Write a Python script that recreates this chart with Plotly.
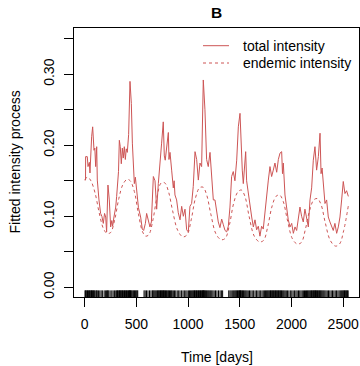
import plotly.graph_objects as go

# ---- data ----
endemic_t = [0, 30, 60, 100, 140, 180, 215, 250, 290, 330, 370, 410, 440, 480, 520, 560, 590, 620,
             660, 700, 740, 775, 810, 850, 900, 950, 990, 1030, 1070, 1110, 1145, 1180, 1220, 1270,
             1320, 1360, 1400, 1440, 1480, 1515, 1550, 1590, 1640, 1690, 1730, 1770, 1810, 1850,
             1885, 1920, 1960, 2010, 2055, 2095, 2135, 2175, 2215, 2250, 2285, 2325, 2375, 2425,
             2465, 2505, 2550]
endemic_v = [0.152, 0.155, 0.150, 0.133, 0.105, 0.083, 0.076, 0.077, 0.095, 0.125, 0.145, 0.152,
             0.150, 0.135, 0.103, 0.078, 0.072, 0.074, 0.095, 0.128, 0.147, 0.147, 0.135, 0.108,
             0.080, 0.071, 0.074, 0.095, 0.125, 0.140, 0.141, 0.130, 0.103, 0.075, 0.067, 0.069,
             0.088, 0.118, 0.134, 0.137, 0.128, 0.100, 0.072, 0.064, 0.066, 0.085, 0.113, 0.128,
             0.130, 0.121, 0.095, 0.068, 0.061, 0.063, 0.082, 0.108, 0.123, 0.125, 0.117, 0.092,
             0.066, 0.058, 0.061, 0.080, 0.115]

total_t = [0, 8, 9, 25, 32, 45, 51, 58, 67, 77, 84, 90, 98, 106, 116, 122, 138, 154, 166, 180,
           192, 203, 212, 225, 238, 251, 262, 270, 283, 300, 309, 319, 327, 335, 344, 354, 364,
           373, 383, 393, 402, 412, 425, 438, 451, 461, 470, 480, 490, 500, 509, 520, 541, 557,
           570, 587, 599, 615, 631, 645, 664, 680, 696, 712, 728, 744, 760, 770, 779, 799, 809,
           815, 825, 841, 857, 865, 873, 889, 905, 922, 938, 954, 970, 986, 1002, 1018, 1034,
           1050, 1067, 1083, 1099, 1115, 1131, 1147, 1163, 1179, 1195, 1212, 1228, 1244, 1260,
           1276, 1292, 1308, 1325, 1341, 1357, 1373, 1389, 1405, 1421, 1437, 1453, 1470, 1486,
           1502, 1512, 1524, 1534, 1550, 1557, 1566, 1582, 1599, 1615, 1631, 1647, 1663, 1679,
           1695, 1711, 1727, 1744, 1760, 1776, 1792, 1808, 1824, 1840, 1857, 1873, 1889, 1905,
           1913, 1921, 1937, 1953, 1969, 1986, 2002, 2018, 2034, 2050, 2066, 2082, 2098, 2114,
           2130, 2147, 2163, 2179, 2195, 2211, 2227, 2243, 2260, 2276, 2286, 2296, 2308, 2324,
           2340, 2356, 2372, 2388, 2404, 2420, 2437, 2453, 2469, 2485, 2501, 2517, 2533, 2550]
total_v = [0.151, 0.151, 0.184, 0.184, 0.170, 0.176, 0.161, 0.196, 0.212, 0.226, 0.205, 0.193,
           0.196, 0.170, 0.198, 0.151, 0.123, 0.104, 0.100, 0.090, 0.104, 0.099, 0.078, 0.144,
           0.123, 0.085, 0.094, 0.086, 0.099, 0.113, 0.128, 0.156, 0.163, 0.207, 0.198, 0.174,
           0.196, 0.182, 0.198, 0.180, 0.195, 0.190, 0.215, 0.290, 0.259, 0.203, 0.161, 0.146,
           0.155, 0.142, 0.123, 0.112, 0.099, 0.082, 0.080, 0.090, 0.104, 0.092, 0.085, 0.092,
           0.156, 0.150, 0.110, 0.146, 0.170, 0.203, 0.233, 0.185, 0.179, 0.208, 0.218, 0.180,
           0.190, 0.165, 0.140, 0.150, 0.130, 0.123, 0.105, 0.095, 0.114, 0.100, 0.110, 0.081,
           0.078, 0.114, 0.118, 0.142, 0.191, 0.180, 0.151, 0.175, 0.170, 0.292, 0.250, 0.180,
           0.170, 0.190, 0.150, 0.123, 0.123, 0.105, 0.092, 0.084, 0.096, 0.088, 0.080, 0.078,
           0.086, 0.113, 0.156, 0.163, 0.150, 0.179, 0.226, 0.245, 0.200, 0.165, 0.146, 0.179,
           0.191, 0.150, 0.132, 0.112, 0.099, 0.085, 0.095, 0.081, 0.086, 0.072, 0.086, 0.082,
           0.110, 0.132, 0.151, 0.170, 0.156, 0.165, 0.175, 0.162, 0.180, 0.189, 0.191, 0.160,
           0.175, 0.130, 0.110, 0.095, 0.085, 0.090, 0.076, 0.085, 0.080, 0.100, 0.113, 0.100,
           0.092, 0.110, 0.098, 0.085, 0.123, 0.140, 0.179, 0.198, 0.165, 0.184, 0.217, 0.160,
           0.168, 0.146, 0.118, 0.123, 0.099, 0.092, 0.085, 0.080, 0.090, 0.076, 0.085, 0.099,
           0.123, 0.149, 0.132, 0.136, 0.128]

event_times = [3, 9, 14, 22, 27, 35, 41, 48, 52, 60, 66, 71, 77, 84, 90, 97, 108, 116, 121, 133,
               146, 159, 171, 188, 200, 212, 219, 225, 233, 246, 262, 275, 289, 301, 309, 317,
               322, 330, 336, 341, 348, 353, 360, 366, 372, 379, 385, 392, 398, 404, 411, 417,
               424, 430, 434, 438, 443, 450, 457, 466, 474, 481, 490, 498, 506, 513,
               574, 585, 598, 612, 627, 641, 655, 662, 670, 679, 688, 697, 705, 712, 719, 726,
               733, 739, 745, 751, 758, 763, 769, 775, 782, 790, 797, 805, 812, 820, 829, 838,
               846, 857, 868, 881, 895, 909, 922, 937, 951, 964, 978, 990, 1003, 1013, 1022,
               1031, 1040, 1048, 1055, 1062, 1068, 1075, 1081, 1088, 1095, 1101, 1108, 1114,
               1120, 1127, 1133, 1139, 1144, 1148, 1152, 1157, 1163, 1170, 1177, 1185, 1193,
               1201, 1210, 1219, 1229, 1240, 1252, 1265, 1279, 1294, 1309, 1322, 1334,
               1393, 1405, 1416, 1427, 1437, 1446, 1455, 1463, 1470, 1478, 1485, 1491, 1497,
               1502, 1507, 1513, 1520, 1527, 1535, 1543, 1552, 1561, 1571, 1582, 1594, 1607,
               1620, 1634, 1648, 1661, 1675, 1688, 1702, 1715, 1727, 1738, 1748, 1757, 1766,
               1774, 1782, 1790, 1797, 1804, 1811, 1818, 1825, 1832, 1839, 1846, 1853, 1860,
               1867, 1874, 1881, 1888, 1895, 1903, 1911, 1920, 1929, 1939, 1950, 1962, 1975,
               1989, 2003, 2016, 2030, 2043, 2055, 2068, 2080, 2092, 2104, 2115, 2126, 2136,
               2145, 2154, 2162, 2170, 2178, 2186, 2193, 2200, 2207, 2214, 2220, 2226, 2232,
               2238, 2244, 2251, 2258, 2265, 2272, 2279, 2287, 2295, 2304, 2313, 2323, 2334,
               2346, 2358, 2371, 2384, 2397, 2410, 2423, 2436, 2449, 2461, 2472, 2482, 2491,
               2499, 2506, 2513, 2520, 2527, 2534, 2541, 2548]

series_names = ["total intensity", "endemic intensity"]
x_ticks = [0, 500, 1000, 1500, 2000, 2500]
y_ticks = [0.00, 0.05, 0.10, 0.15, 0.20, 0.25, 0.30, 0.35]
y_ticktext = ["0.00", "", "0.10", "", "0.20", "", "0.30", ""]

RED = "#CD5555"
FONT = "Liberation Sans, Arial, Helvetica, sans-serif"
DASH = "3px,3px"

# plot-area geometry in pixels (for placing text outside the axes)
L, R, T, B = 74, 359, 28, 297
PW, PH = R - L, B - T


def px_x(px):
    return (px - L) / PW


def px_y(py):
    return (B - py) / PH


fig = go.Figure()
fig.add_trace(go.Scatter(x=total_t, y=total_v, mode="lines", name=series_names[0],
                         showlegend=False, line=dict(color=RED, width=1)))
fig.add_trace(go.Scatter(x=endemic_t, y=endemic_v, mode="lines", name=series_names[1],
                         showlegend=False,
                         line=dict(color=RED, width=1, dash=DASH, shape="spline")))
fig.add_trace(go.Scatter(x=event_times, y=[-0.0093] * len(event_times), mode="markers",
                         showlegend=False, hoverinfo="skip",
                         marker=dict(symbol="line-ns", size=5,
                                     line=dict(color="black", width=1))))

# legend drawn as in R (no box): sample lines + labels
legend_rows_y = [45.7, 63.0]
legend_dash = ["solid", DASH]
shapes = []
annotations = []
for name, ry, dsh in zip(series_names, legend_rows_y, legend_dash):
    shapes.append(dict(type="line", xref="paper", yref="paper",
                       x0=px_x(203), x1=px_x(229), y0=px_y(ry), y1=px_y(ry),
                       line=dict(color=RED, width=1, dash=dsh)))
    annotations.append(dict(text=name, xref="paper", yref="paper", x=px_x(241), y=px_y(ry),
                            xanchor="left", yanchor="middle", showarrow=False,
                            font=dict(size=14)))

annotations += [
    dict(text="Time [days]", xref="paper", yref="paper", x=0.5, y=px_y(357),
         xanchor="center", yanchor="middle", showarrow=False, font=dict(size=14)),
    dict(text="Fitted intensity process", xref="paper", yref="paper",
         x=px_x(14), y=0.5, xanchor="center", yanchor="middle",
         textangle=-90, showarrow=False, font=dict(size=14)),
    dict(text="<b>B</b>", xref="paper", yref="paper", x=0.5, y=px_y(13),
         xanchor="center", yanchor="middle", showarrow=False, font=dict(size=15.5)),
]

fig.update_layout(
    width=360, height=366,
    margin=dict(l=L, r=360 - R, t=T, b=366 - B),
    paper_bgcolor="white", plot_bgcolor="white",
    font=dict(family=FONT, size=14, color="black"),
    showlegend=False,
    xaxis=dict(range=[-103.5, 2653], tickvals=x_ticks, ticks="outside", ticklen=9,
               tickcolor="black", showline=True, linecolor="black", linewidth=1, mirror=True,
               showgrid=False, zeroline=False, ticklabelstandoff=5,
               tickfont=dict(size=14)),
    yaxis=dict(range=[-0.0137, 0.3652], tickvals=y_ticks, ticktext=y_ticktext,
               ticks="outside", ticklen=9, tickcolor="black", tickangle=-90,
               showline=True, linecolor="black", linewidth=1, mirror=True,
               showgrid=False, zeroline=False, ticklabelstandoff=4,
               tickfont=dict(size=14)),
    shapes=shapes,
    annotations=annotations,
)

fig.write_html("out.html", config={"displayModeBar": False},
               post_script="document.body.style.margin='0';document.body.style.overflow='hidden';")
